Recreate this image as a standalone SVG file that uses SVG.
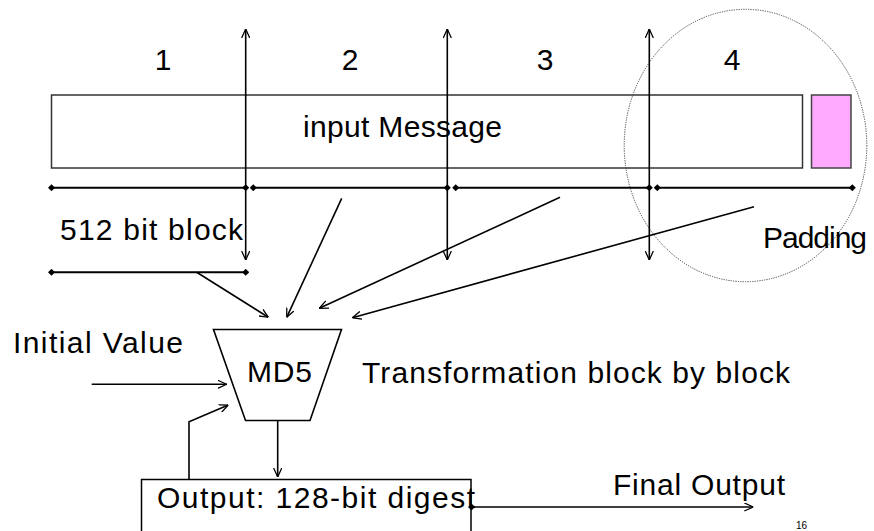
<svg xmlns="http://www.w3.org/2000/svg" width="874" height="531" viewBox="0 0 874 531">
  <style>
    .t { font-family: "Liberation Sans", Arial, sans-serif; font-size: 30px; fill: #000; }
    .small { font-size: 10px; }
    .ln { stroke: #000; stroke-width: 2; fill: none; }
    .ar { stroke: #000; stroke-width: 1.6; fill: none; }
    .box { fill: #fff; stroke: #333; stroke-width: 1.5; }
  </style>
  <defs>
    <marker id="arr" viewBox="0 0 10 10" refX="10" refY="5" markerWidth="9" markerHeight="9" markerUnits="userSpaceOnUse" orient="auto-start-reverse">
      <path d="M0,0.5 L10,5 L0,9.5" fill="none" stroke="#000" stroke-width="1.4"/>
    </marker>
    <marker id="dia" viewBox="0 0 10 10" refX="5" refY="5" markerWidth="7" markerHeight="7" markerUnits="userSpaceOnUse" orient="auto">
      <path d="M5,0 L10,5 L5,10 L0,5 Z" fill="#000"/>
    </marker>
  </defs>
  <rect width="874" height="531" fill="#fff"/>

  <g id="input-message">
    <rect class="box" x="51.5" y="95" width="751" height="73" stroke="#555"/>
    <text class="t" x="303" y="137" textLength="199">input Message</text>
  </g>
  <g id="padding-block">
    <rect x="811.5" y="95" width="39.5" height="73" fill="#ffaaff" stroke="#444" stroke-width="1.5"/>
  </g>
  <g id="padding-circle">
    <ellipse cx="745.5" cy="145.5" rx="121.3" ry="136.2" fill="none" stroke="#444" stroke-width="1" stroke-dasharray="1.2 1.2"/>
    <text class="t" x="763" y="248" textLength="104">Padding</text>
  </g>
  <g id="block-numbers">
    <text class="t" x="163" y="70" text-anchor="middle">1</text>
    <text class="t" x="350" y="70" text-anchor="middle">2</text>
    <text class="t" x="545" y="70" text-anchor="middle">3</text>
    <text class="t" x="732" y="70" text-anchor="middle">4</text>
  </g>
  <g id="block-label">
    <text class="t" x="60" y="240" textLength="183">512 bit block</text>
  </g>
  <g id="md5">
    <polygon points="213.5,329.5 341.5,329.5 310,420.5 245.5,420.5" fill="#fff" stroke="#000" stroke-width="1.6"/>
    <text class="t" x="247" y="382" textLength="65">MD5</text>
  </g>
  <g id="initial-value">
    <text class="t" x="13" y="353" textLength="170">Initial Value</text>
  </g>
  <g id="transformation-label">
    <text class="t" x="362" y="383" textLength="428">Transformation block by block</text>
  </g>
  <g id="output">
    <rect x="141.5" y="479.5" width="329.5" height="80" fill="#fff" stroke="#000" stroke-width="1.5"/>
    <text class="t" x="157" y="508" textLength="318">Output: 128-bit digest</text>
  </g>
  <g id="final-output">
    <text class="t" x="613" y="495" textLength="172">Final Output</text>
  </g>
  <g id="page-number">
    <text class="t small" x="796" y="529">16</text>
  </g>

  <g id="connectors">
    <line class="ar" x1="245.7" y1="29" x2="245.7" y2="260" marker-start="url(#arr)" marker-end="url(#arr)"/>
    <line class="ar" x1="447.3" y1="29" x2="447.3" y2="260" marker-start="url(#arr)" marker-end="url(#arr)"/>
    <line class="ar" x1="649.3" y1="29" x2="649.3" y2="260" marker-start="url(#arr)" marker-end="url(#arr)"/>
    <line class="ln" x1="51.5" y1="187.7" x2="245.7" y2="187.7" marker-start="url(#dia)" marker-end="url(#dia)"/>
    <line class="ln" x1="253.3" y1="187.7" x2="447.3" y2="187.7" marker-start="url(#dia)" marker-end="url(#dia)"/>
    <line class="ln" x1="455.7" y1="187.7" x2="649.3" y2="187.7" marker-start="url(#dia)" marker-end="url(#dia)"/>
    <line class="ln" x1="657.3" y1="187.7" x2="852.3" y2="187.7" marker-start="url(#dia)" marker-end="url(#dia)"/>
    <line class="ln" x1="51.5" y1="272.3" x2="245.7" y2="272.3" marker-start="url(#dia)" marker-end="url(#dia)"/>
    <line class="ar" x1="196.7" y1="272.3" x2="268.3" y2="317.3" marker-end="url(#arr)"/>
    <line class="ar" x1="341.7" y1="198.3" x2="286.7" y2="317.3" marker-end="url(#arr)"/>
    <line class="ar" x1="560" y1="197.3" x2="319.3" y2="308.3" marker-end="url(#arr)"/>
    <line class="ar" x1="754" y1="206.7" x2="352.3" y2="317.7" marker-end="url(#arr)"/>
    <line class="ar" x1="91.7" y1="384.3" x2="226.7" y2="384.3" marker-end="url(#arr)"/>
    <polyline class="ar" points="189,479.5 189,421.7 228.3,405" marker-end="url(#arr)"/>
    <line class="ar" x1="277.7" y1="420.7" x2="277.7" y2="477" marker-end="url(#arr)"/>
    <line class="ar" x1="471.5" y1="507" x2="753.3" y2="507" marker-start="url(#dia)" marker-end="url(#arr)"/>
  </g>
</svg>
